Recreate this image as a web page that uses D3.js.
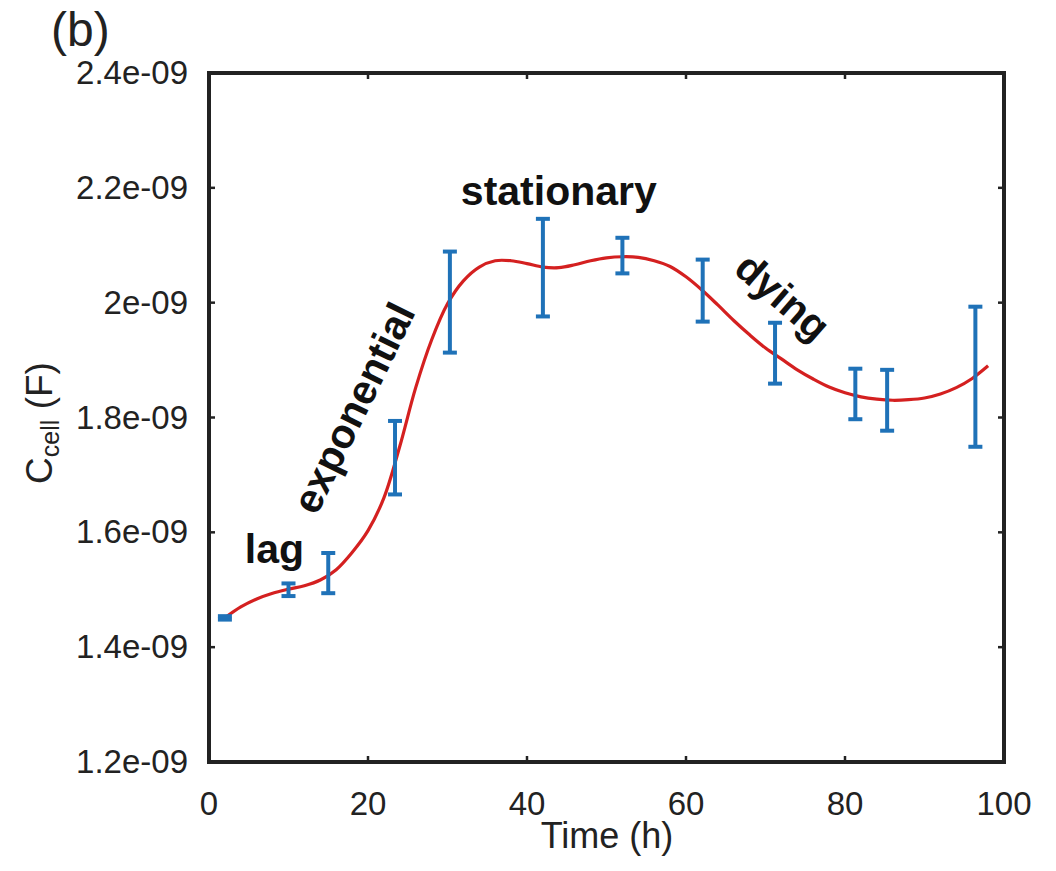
<!DOCTYPE html>
<html>
<head>
<meta charset="utf-8">
<script src="https://cdn.jsdelivr.net/npm/d3@7"></script>
<style>
  body { margin: 0; background: #fff; }
  svg text { font-family: "Liberation Sans", Arial, sans-serif; fill: #222; }
</style>
</head>
<body>
<svg id="growth-graph"></svg>
<script>
"use strict";

/* measured points (time in h, capacitance in units of 1e-9 F) */
const sampleTimes = [2, 10, 15, 23.4, 30.3, 42, 52, 62.1, 71.2, 81.3, 85.3, 96.4];
const sampleMeans = [1.451, 1.500, 1.529, 1.730, 2.001, 2.061, 2.082, 2.021, 1.912, 1.841, 1.830, 1.871];
const sampleErrors = [0.003, 0.011, 0.035, 0.064, 0.088, 0.085, 0.031, 0.054, 0.053, 0.044, 0.053, 0.122];

/* fitted curve */
const fitTimes = [2, 4, 6, 8, 10, 12, 14, 16, 18, 20, 22, 24, 26, 28, 30, 32, 34, 36, 38, 40, 42, 44, 46, 48,
  50, 52, 54, 56, 58, 60, 62, 64, 66, 68, 70, 72, 74, 76, 78, 80, 82, 84, 86, 88, 90, 92, 94, 96, 98];
const fitValues = [1.451, 1.470, 1.484, 1.494, 1.501, 1.507, 1.517, 1.535, 1.565, 1.603, 1.660, 1.750, 1.852,
  1.935, 1.998, 2.038, 2.062, 2.073, 2.073, 2.068, 2.062, 2.061, 2.066, 2.073, 2.078, 2.080, 2.079, 2.073,
  2.063, 2.045, 2.022, 1.996, 1.969, 1.944, 1.921, 1.902, 1.883, 1.867, 1.853, 1.843, 1.836, 1.832, 1.830,
  1.831, 1.834, 1.841, 1.852, 1.868, 1.890];

const xTicks = [0, 20, 40, 60, 80, 100];
const yTicks = [1.2, 1.4, 1.6, 1.8, 2.0, 2.2, 2.4];
const yTickLabels = ['1.2e-09', '1.4e-09', '1.6e-09', '1.8e-09', '2e-09', '2.2e-09', '2.4e-09'];

const phaseLabels = ['lag', 'exponential', 'stationary', 'dying'];
const phaseTimes = [4.5, 19.8, 44, 71];
const phaseValues = [1.547, 1.806, 2.17, 1.992];
const phaseAngles = [0, -64, 0, 41];

function drawGrowth() {
  let width = 1056, height = 871;
  let plot = { left: 209, right: 1004, top: 73, bottom: 762 };

  let svg = d3.select('svg#growth-graph')
    .attr('width', width)
    .attr('height', height);

  let x = d3.scaleLinear().domain([0, 100]).range([plot.left, plot.right]);
  let y = d3.scaleLinear().domain([1.2, 2.4]).range([plot.bottom, plot.top]);

  /* panel tag */
  svg.append('text')
    .attr('x', 51)
    .attr('y', 46)
    .style('font-size', '48px')
    .text('(b)');

  /* inward ticks on all four sides */
  let tickLen = 6;
  let ticks = svg.append('g').attr('stroke', '#222').attr('stroke-width', 2.5);
  xTicks.forEach(t => {
    ticks.append('line').attr('x1', x(t)).attr('x2', x(t)).attr('y1', plot.bottom).attr('y2', plot.bottom - tickLen);
    ticks.append('line').attr('x1', x(t)).attr('x2', x(t)).attr('y1', plot.top).attr('y2', plot.top + tickLen);
  });
  yTicks.forEach(t => {
    ticks.append('line').attr('y1', y(t)).attr('y2', y(t)).attr('x1', plot.left).attr('x2', plot.left + tickLen);
    ticks.append('line').attr('y1', y(t)).attr('y2', y(t)).attr('x1', plot.right).attr('x2', plot.right - tickLen);
  });

  /* tick labels */
  svg.selectAll('text.x-tick')
    .data(xTicks)
    .enter()
    .append('text')
    .attr('class', 'x-tick')
    .attr('text-anchor', 'middle')
    .attr('x', d => x(d))
    .attr('y', 815)
    .style('font-size', '33px')
    .text(d => d);

  svg.selectAll('text.y-tick')
    .data(yTicks)
    .enter()
    .append('text')
    .attr('class', 'y-tick')
    .attr('text-anchor', 'end')
    .attr('x', 188)
    .attr('y', d => y(d) + 11)
    .style('font-size', '33px')
    .text((d, i) => yTickLabels[i]);

  /* axis titles */
  svg.append('text')
    .attr('text-anchor', 'middle')
    .attr('x', 607)
    .attr('y', 848)
    .style('font-size', '36px')
    .text('Time (h)');

  let yTitle = svg.append('text')
    .attr('text-anchor', 'middle')
    .attr('transform', 'translate(52,423) rotate(-90)')
    .style('font-size', '37px');
  yTitle.append('tspan').text('C');
  yTitle.append('tspan').attr('dy', 7).style('font-size', '25px').text('cell');
  yTitle.append('tspan').attr('dy', -7).text(' (F)');

  /* fitted curve */
  let fitData = fitTimes.map((t, i) => [t, fitValues[i]]);
  let line = d3.line()
    .x(d => x(d[0]))
    .y(d => y(d[1]))
    .curve(d3.curveCatmullRom);
  svg.append('path')
    .datum(fitData)
    .attr('d', line)
    .attr('fill', 'none')
    .attr('stroke', '#d42020')
    .attr('stroke-width', 3.2);

  /* error bars */
  let capHalf = 7;
  let bars = svg.append('g')
    .attr('stroke', '#1f72b8')
    .attr('stroke-width', 4);
  sampleTimes.forEach((t, i) => {
    let lo = y(sampleMeans[i] - sampleErrors[i]);
    let hi = y(sampleMeans[i] + sampleErrors[i]);
    bars.append('line').attr('x1', x(t)).attr('x2', x(t)).attr('y1', lo).attr('y2', hi);
    bars.append('line').attr('x1', x(t) - capHalf).attr('x2', x(t) + capHalf).attr('y1', lo).attr('y2', lo);
    bars.append('line').attr('x1', x(t) - capHalf).attr('x2', x(t) + capHalf).attr('y1', hi).attr('y2', hi);
  });

  /* growth phase annotations */
  phaseLabels.forEach((label, i) => {
    svg.append('text')
      .attr('text-anchor', label === 'lag' ? 'start' : 'middle')
      .attr('transform', `translate(${x(phaseTimes[i])},${y(phaseValues[i])}) rotate(${phaseAngles[i]})`)
      .style('font-size', '41px')
      .style('font-weight', 'bold')
      .style('fill', '#111')
      .text(label);
  });

  /* box */
  svg.append('rect')
    .attr('x', plot.left)
    .attr('y', plot.top)
    .attr('width', plot.right - plot.left)
    .attr('height', plot.bottom - plot.top)
    .attr('fill', 'none')
    .attr('stroke', '#222')
    .attr('stroke-width', 4);
}

drawGrowth();
</script>
</body>
</html>
